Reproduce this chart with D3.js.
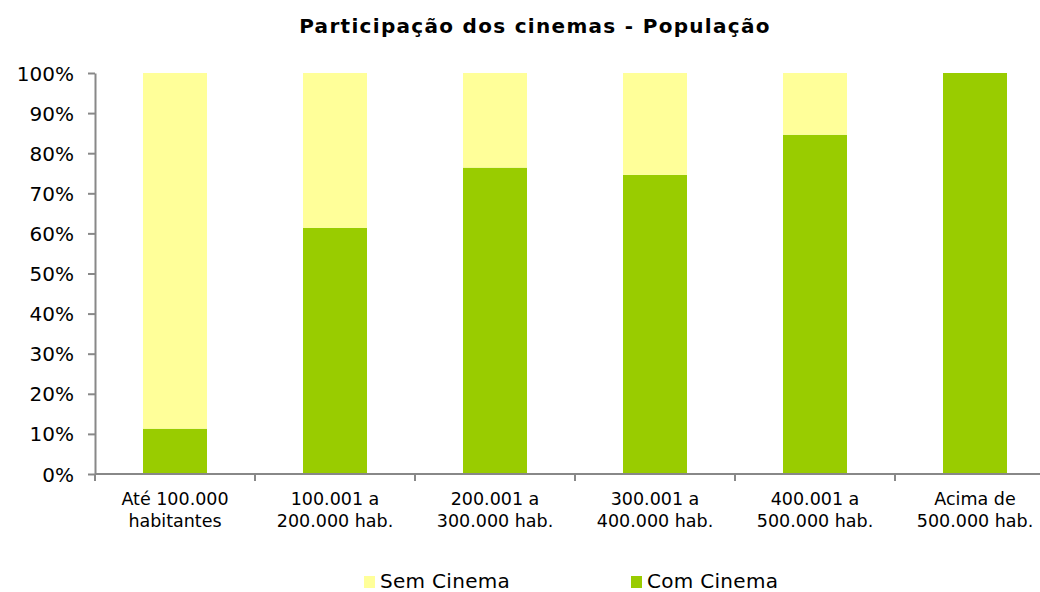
<!DOCTYPE html>
<html>
<head>
<meta charset="utf-8">
<script src="https://cdn.jsdelivr.net/npm/d3@7"></script>
<style>
  body { margin: 0; background: #fff; }
  svg text { font-family: "DejaVu Sans", Verdana, sans-serif; fill: #000; }
</style>
</head>
<body>
<div id="chart"></div>
<script>
// data
const categories = [
  ["Até 100.000", "habitantes"],
  ["100.001 a", "200.000 hab."],
  ["200.001 a", "300.000 hab."],
  ["300.001 a", "400.000 hab."],
  ["400.001 a", "500.000 hab."],
  ["Acima de", "500.000 hab."]
];
const comCinema = [11.3, 61.4, 76.4, 74.6, 84.6, 100];
const semCinema = comCinema.map(v => 100 - v);
const seriesNames = ["Sem Cinema", "Com Cinema"];
const seriesColors = ["#FFFF99", "#99CC00"];
const yTicks = [0, 10, 20, 30, 40, 50, 60, 70, 80, 90, 100];

const W = 1040, H = 592;
const margin = {top: 73, left: 95, bottom: 118};

const svg = d3.select("#chart").append("svg")
  .attr("width", W).attr("height", H);

svg.append("text")
  .attr("x", 535).attr("y", 33)
  .attr("text-anchor", "middle")
  .style("font-size", "20px").style("font-weight", "bold")
  .style("letter-spacing", "1.3px")
  .text("Participação dos cinemas - População");

const x = d3.scaleBand()
  .domain(d3.range(categories.length))
  .range([margin.left, margin.left + 960])
  .paddingInner(0.6).paddingOuter(0.3);

const y = d3.scaleLinear().domain([0, 100]).range([474, margin.top]);

// stacked: Com Cinema at bottom, Sem Cinema above
const rows = categories.map((c, i) => ({i, com: comCinema[i], sem: semCinema[i]}));
const stack = d3.stack().keys(["com", "sem"])(rows);
const colorByKey = {com: seriesColors[1], sem: seriesColors[0]};

svg.append("g").selectAll("g")
  .data(stack)
  .join("g")
  .attr("fill", d => colorByKey[d.key])
  .selectAll("rect")
  .data(d => d)
  .join("rect")
  .attr("x", d => x(d.data.i))
  .attr("width", x.bandwidth())
  .attr("y", d => y(d[1]))
  .attr("height", d => y(d[0]) - y(d[1]));

// y axis
const yAxis = svg.append("g")
  .attr("transform", `translate(${margin.left},0)`)
  .call(d3.axisLeft(y).tickValues(yTicks).tickFormat(d => d + "%").tickSize(7).tickSizeOuter(0));
yAxis.selectAll("line, path").attr("stroke", "#888").attr("stroke-width", 2);
yAxis.selectAll("text").style("font-size", "20px").attr("x", -21).attr("dy", "0.35em");

// x axis
const xAxisG = svg.append("g").attr("transform", "translate(0,474)");
xAxisG.append("line")
  .attr("x1", margin.left).attr("x2", W)
  .attr("stroke", "#888").attr("stroke-width", 2);
const step = x.step();
xAxisG.selectAll(".tick")
  .data(d3.range(categories.length + 1))
  .join("line")
  .attr("x1", i => margin.left + i * step).attr("x2", i => margin.left + i * step)
  .attr("y1", 0).attr("y2", 7)
  .attr("stroke", "#888").attr("stroke-width", 2);

const labels = xAxisG.selectAll(".lab")
  .data(categories)
  .join("text")
  .attr("class", "lab")
  .attr("text-anchor", "middle")
  .style("font-size", "17.5px");
labels.each(function(d, i) {
  const t = d3.select(this);
  d.forEach((line, k) => {
    t.append("tspan")
      .attr("x", x(i) + x.bandwidth() / 2)
      .attr("y", 31 + k * 22)
      .text(line);
  });
});

// legend
const legendX = [364, 631];
const legend = svg.append("g").selectAll("g")
  .data(seriesNames)
  .join("g")
  .attr("transform", (d, i) => `translate(${legendX[i]},576)`);
legend.append("rect").attr("width", 11).attr("height", 12)
  .attr("fill", (d, i) => seriesColors[i]);
legend.append("text").attr("x", 16).attr("y", 12)
  .style("font-size", "20px")
  .style("letter-spacing", "0.3px")
  .text(d => d);
</script>
</body>
</html>
